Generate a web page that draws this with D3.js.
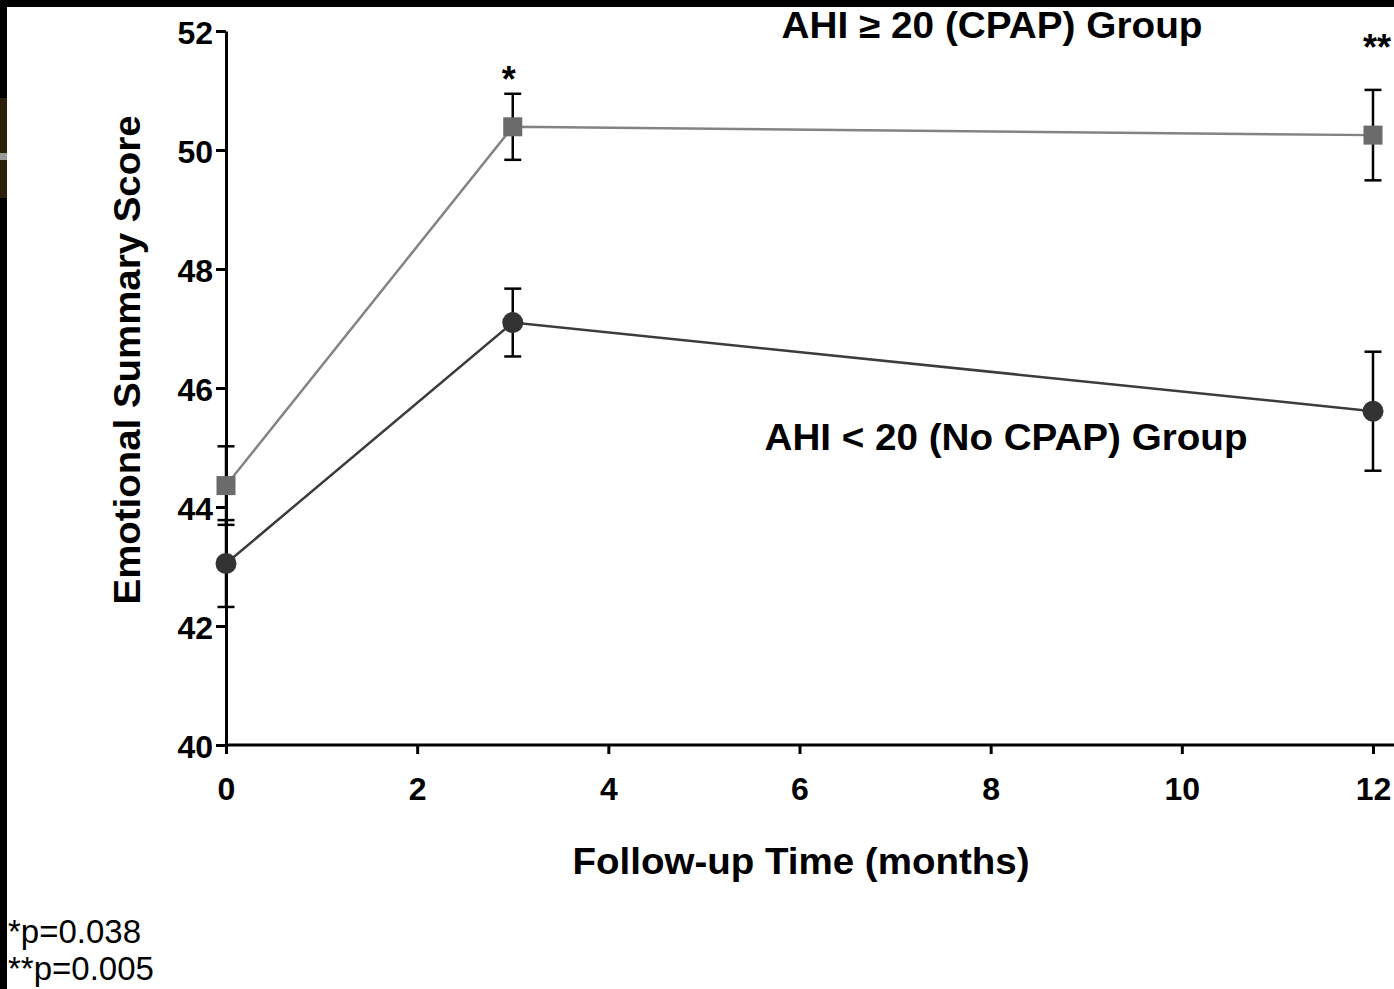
<!DOCTYPE html>
<html><head><meta charset="utf-8">
<script src="https://cdn.jsdelivr.net/npm/d3@7/dist/d3.min.js"></script>
<style>
html,body{margin:0;padding:0;background:#fff;overflow:hidden;}
svg{display:block;}
</style></head>
<body>
<script>
const months = [0, 3, 12];
const cpapMean = [44.36, 50.39, 50.25];
const cpapSem = [0.66, 0.555, 0.76];
const noCpapMean = [43.05, 47.10, 45.61];
const noCpapSem = [0.73, 0.57, 1.0];
const xTicks = [0, 2, 4, 6, 8, 10, 12];
const yTicks = [40, 42, 44, 46, 48, 50, 52];
const cpapLabel = "AHI \u2265 20 (CPAP) Group";
const noCpapLabel = "AHI < 20 (No CPAP) Group";
const sigMarks = [{m: 3, t: "*"}, {m: 12, t: "**"}];
const footnotes = ["*p=0.038", "**p=0.005"];

const W = 1394, H = 989;
const svg = d3.select("body").append("svg").attr("width", W).attr("height", H);
svg.append("rect").attr("width", W).attr("height", H).attr("fill", "#fff");

// frame strips
svg.append("rect").attr("x", 0).attr("y", 0).attr("width", W).attr("height", 7).attr("fill", "#000");
svg.append("rect").attr("x", 0).attr("y", 0).attr("width", 7).attr("height", H).attr("fill", "#000");
svg.append("rect").attr("x", 0).attr("y", 98).attr("width", 7).attr("height", 100).attr("fill", "#2b2108");
svg.append("rect").attr("x", 0).attr("y", 153).attr("width", 7).attr("height", 7).attr("fill", "#9a9a9a");

const x = d3.scaleLinear().domain([0, 12]).range([226, 1373]);
const y = d3.scaleLinear().domain([40, 52]).range([745, 31]);
const font = "'Liberation Sans', Arial, Helvetica, sans-serif";

// axes
const xAxis = svg.append("g").attr("transform", "translate(0,745)")
  .call(d3.axisBottom(x).tickValues(xTicks).tickSize(9).tickSizeOuter(0).tickPadding(23).tickFormat(d3.format("d")));
xAxis.select(".domain").remove();
xAxis.append("line").attr("x1", 226).attr("x2", W).attr("y1", 0).attr("y2", 0).attr("stroke", "#000").attr("stroke-width", 3);
xAxis.selectAll(".tick line").attr("stroke", "#000").attr("stroke-width", 3);
xAxis.selectAll(".tick text").attr("fill", "#000").style("font-family", font).style("font-size", "32px").style("font-weight", "bold");

const yAxis = svg.append("g").attr("transform", "translate(226,0)")
  .call(d3.axisLeft(y).tickValues(yTicks).tickSize(10).tickSizeOuter(0).tickPadding(3).tickFormat(d3.format("d")));
yAxis.select(".domain").attr("stroke", "#000").attr("stroke-width", 3);
yAxis.selectAll(".tick line").attr("stroke", "#000").attr("stroke-width", 3);
yAxis.selectAll(".tick text").attr("fill", "#000").style("font-family", font).style("font-size", "32px").style("font-weight", "bold").attr("dy", "0.4em");

function bigText(tx, ty, str, len, size) {
  return svg.append("text").attr("x", tx).attr("y", ty).attr("text-anchor", "middle")
    .attr("textLength", len).attr("lengthAdjust", "spacingAndGlyphs")
    .style("font-family", font).style("font-size", size + "px").style("font-weight", "bold").text(str);
}

// axis titles
bigText(801, 874, "Follow-up Time (months)", 457, 36);
bigText(0, 0, "Emotional Summary Score", 489, 36).attr("transform", "translate(140,360) rotate(-90)");

function series(means, sems, lineColor, markColor, shape) {
  const pts = months.map((m, i) => ({m, v: means[i], s: sems[i]}));
  svg.append("path").datum(pts)
    .attr("d", d3.line().x(d => x(d.m)).y(d => y(d.v)))
    .attr("fill", "none").attr("stroke", lineColor).attr("stroke-width", 2.5);
  const g = svg.append("g");
  pts.forEach(d => {
    const cx = x(d.m), top = y(d.v + d.s), bot = y(d.v - d.s);
    g.append("line").attr("x1", cx).attr("x2", cx).attr("y1", top).attr("y2", bot).attr("stroke", "#000").attr("stroke-width", 2.5);
    [top, bot].forEach(yy => g.append("line").attr("x1", cx - 8.5).attr("x2", cx + 8.5).attr("y1", yy).attr("y2", yy).attr("stroke", "#000").attr("stroke-width", 2.5));
  });
  pts.forEach(d => {
    if (shape === "square") {
      g.append("rect").attr("x", x(d.m) - 9.5).attr("y", y(d.v) - 9.5).attr("width", 19).attr("height", 19).attr("fill", markColor);
    } else {
      g.append("circle").attr("cx", x(d.m)).attr("cy", y(d.v)).attr("r", 10.5).attr("fill", markColor);
    }
  });
}
series(noCpapMean, noCpapSem, "#3c3c3c", "#333333", "circle");
series(cpapMean, cpapSem, "#838383", "#6b6b6b", "square");

// labels
bigText(992, 38, cpapLabel, 421, 36);
bigText(1006, 450, noCpapLabel, 483, 36);
sigMarks.forEach((s, i) => {
  svg.append("text").attr("x", x(s.m) + (i === 1 ? 4 : -4)).attr("y", i === 0 ? 92 : 60).attr("text-anchor", "middle")
    .style("font-family", font).style("font-size", "36px").style("font-weight", "bold").text(s.t);
});
footnotes.forEach((t, i) => {
  svg.append("text").attr("x", 8).attr("y", 943 + i * 37)
    .style("font-family", font).style("font-size", "33px").text(t);
});
</script>
</body></html>
